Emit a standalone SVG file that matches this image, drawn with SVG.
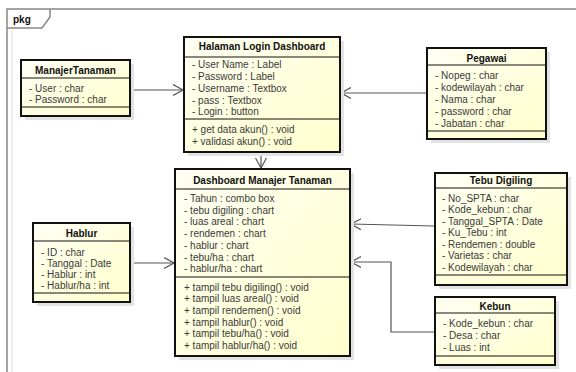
<svg xmlns="http://www.w3.org/2000/svg" width="576" height="372" viewBox="0 0 576 372">
<defs>
<linearGradient id="cls" x1="0" y1="0" x2="1" y2="1">
<stop offset="0" stop-color="#FFFFF4"/>
<stop offset="1" stop-color="#FFFFCC"/>
</linearGradient>
<marker id="open" markerWidth="10" markerHeight="12" refX="10" refY="6" orient="auto" markerUnits="userSpaceOnUse">
<path d="M0,0.5 L10,6 L0,11.5" fill="none" stroke="#555" stroke-width="1.2"/>
</marker>
</defs>
<style>
.box{fill:url(#cls);stroke:#111;stroke-width:2}
.shadow{fill:#e3e3e3}
.sep{stroke:#111;stroke-width:1}
.title{font-family:"Liberation Sans",Arial,sans-serif;font-size:10px;font-weight:bold;fill:#111;text-anchor:middle}
.attr{font-family:"Liberation Sans",Arial,sans-serif;font-size:10px;fill:#3a3a3a}
.conn{fill:none;stroke:#555;stroke-width:1.2;marker-end:url(#open)}
.frame{fill:none;stroke:#888;stroke-width:1.5}
</style>
<rect width="576" height="372" fill="#fff"/>
<g id="package">
<line x1="12" y1="30" x2="12" y2="372" stroke="#ececec" stroke-width="2"/>
<rect class="frame" x="7" y="9" width="620" height="420"/>
<path class="frame" d="M7,28 L42,28 L50,17 L50,9"/>
<text x="13" y="23" style="font-family:'Liberation Sans',Arial,sans-serif;font-size:10px;font-weight:bold;fill:#111">pkg</text>
</g>
<g id="connectors">
<line class="conn" x1="131" y1="90" x2="183" y2="90"/>
<line class="conn" x1="426" y1="93" x2="341" y2="93"/>
<line class="conn" x1="261" y1="153" x2="261" y2="168"/>
<line class="conn" x1="131" y1="263" x2="174" y2="263"/>
<line class="conn" x1="434" y1="226" x2="351" y2="224"/>
<polyline class="conn" points="434,332 391,332 391,262 351,262"/>
</g>
<g id="ManajerTanaman">
<rect class="shadow" x="25" y="64" width="109" height="56"/>
<rect class="box" x="21" y="60" width="109" height="56"/>
<line class="sep" x1="21" y1="78" x2="130" y2="78"/>
<line class="sep" x1="21" y1="107" x2="130" y2="107"/>
<text class="title" x="75.5" y="74">ManajerTanaman</text>
<text class="attr" x="29" y="91.5">- User : char</text>
<text class="attr" x="29" y="103">- Password : char</text>
</g>
<g id="HalamanLoginDashboard">
<rect class="shadow" x="188" y="41" width="156" height="115"/>
<rect class="box" x="184" y="37" width="156" height="115"/>
<line class="sep" x1="184" y1="57" x2="340" y2="57"/>
<line class="sep" x1="184" y1="119" x2="340" y2="119"/>
<text class="title" x="262" y="50">Halaman Login Dashboard</text>
<text class="attr" x="192" y="68">- User Name : Label</text>
<text class="attr" x="192" y="79.5">- Password : Label</text>
<text class="attr" x="192" y="91.5">- Username : Textbox</text>
<text class="attr" x="192" y="103.5">- pass : Textbox</text>
<text class="attr" x="192" y="115">- Login : button</text>
<text class="attr" x="192" y="133">+ get data akun() : void</text>
<text class="attr" x="192" y="144.5">+ validasi akun() : void</text>
</g>
<g id="Pegawai">
<rect class="shadow" x="431" y="52" width="119" height="91"/>
<rect class="box" x="427" y="48" width="119" height="91"/>
<line class="sep" x1="427" y1="65" x2="546" y2="65"/>
<line class="sep" x1="427" y1="131" x2="546" y2="131"/>
<text class="title" x="486.5" y="61.5">Pegawai</text>
<text class="attr" x="435" y="78.5">- Nopeg : char</text>
<text class="attr" x="435" y="91">- kodewilayah : char</text>
<text class="attr" x="435" y="103">- Nama : char</text>
<text class="attr" x="435" y="115">- password : char</text>
<text class="attr" x="435" y="126.5">- Jabatan : char</text>
</g>
<g id="DashboardManajerTanaman">
<rect class="shadow" x="179" y="173" width="175" height="187"/>
<rect class="box" x="175" y="169" width="175" height="187"/>
<line class="sep" x1="175" y1="189" x2="350" y2="189"/>
<line class="sep" x1="175" y1="277" x2="350" y2="277"/>
<text class="title" x="262.5" y="183.5">Dashboard Manajer Tanaman</text>
<text class="attr" x="184" y="201.5">- Tahun : combo box</text>
<text class="attr" x="184" y="213.5">- tebu digiling : chart</text>
<text class="attr" x="184" y="225">- luas areal : chart</text>
<text class="attr" x="184" y="236.5">- rendemen : chart</text>
<text class="attr" x="184" y="248.5">- hablur : chart</text>
<text class="attr" x="184" y="260.5">- tebu/ha : chart</text>
<text class="attr" x="184" y="272">- hablur/ha : chart</text>
<text class="attr" x="184" y="290.5">+ tampil tebu digiling() : void</text>
<text class="attr" x="184" y="302">+ tampil luas areal() : void</text>
<text class="attr" x="184" y="313.5">+ tampil rendemen() : void</text>
<text class="attr" x="184" y="325.5">+ tampil hablur() : void</text>
<text class="attr" x="184" y="337">+ tampil tebu/ha() : void</text>
<text class="attr" x="184" y="348.5">+ tampil hablur/ha() : void</text>
</g>
<g id="TebuDigiling">
<rect class="shadow" x="439" y="177" width="132" height="112"/>
<rect class="box" x="435" y="173" width="132" height="112"/>
<line class="sep" x1="435" y1="188" x2="567" y2="188"/>
<line class="sep" x1="435" y1="275" x2="567" y2="275"/>
<text class="title" x="501" y="184">Tebu Digiling</text>
<text class="attr" x="442" y="201.5">- No_SPTA : char</text>
<text class="attr" x="442" y="213">- Kode_kebun : char</text>
<text class="attr" x="442" y="224.5">- Tanggal_SPTA : Date</text>
<text class="attr" x="442" y="236">- Ku_Tebu : int</text>
<text class="attr" x="442" y="247.5">- Rendemen : double</text>
<text class="attr" x="442" y="259">- Varietas : char</text>
<text class="attr" x="442" y="270.5">- Kodewilayah : char</text>
</g>
<g id="Kebun">
<rect class="shadow" x="439" y="301" width="120" height="68"/>
<rect class="box" x="435" y="297" width="120" height="68"/>
<line class="sep" x1="435" y1="313" x2="555" y2="313"/>
<line class="sep" x1="435" y1="356" x2="555" y2="356"/>
<text class="title" x="495" y="309.5">Kebun</text>
<text class="attr" x="443" y="326.5">- Kode_kebun : char</text>
<text class="attr" x="443" y="338.5">- Desa : char</text>
<text class="attr" x="443" y="351">- Luas : int</text>
</g>
<g id="Hablur">
<rect class="shadow" x="37" y="227" width="97" height="79"/>
<rect class="box" x="33" y="223" width="97" height="79"/>
<line class="sep" x1="33" y1="241" x2="130" y2="241"/>
<line class="sep" x1="33" y1="293" x2="130" y2="293"/>
<text class="title" x="81.5" y="236.5">Hablur</text>
<text class="attr" x="41" y="255.5">- ID : char</text>
<text class="attr" x="41" y="266.5">- Tanggal : Date</text>
<text class="attr" x="41" y="277.5">- Hablur : int</text>
<text class="attr" x="41" y="289">- Hablur/ha : int</text>
</g>
</svg>
